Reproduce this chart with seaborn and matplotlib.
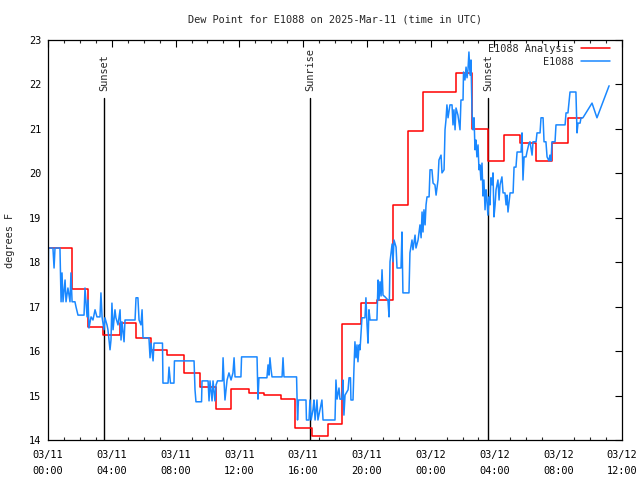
import matplotlib
matplotlib.use("Agg")
import matplotlib.pyplot as plt
from matplotlib.ticker import MultipleLocator
import numpy as np
import pandas as pd
import seaborn as sns

# ---------------- data ----------------
title = "Dew Point for E1088 on 2025-Mar-11 (time in UTC)"
ylabel = "degrees F"

# hours since 2025-03-11 00:00 UTC
red_hours = [0.0, 1.51, 2.53, 3.47, 4.52, 5.50, 6.46, 7.48, 8.55, 9.53, 10.54, 11.46,
             12.60, 13.55, 14.60, 15.50, 16.54, 17.58, 18.46, 19.63, 20.65, 21.62, 22.60,
             23.54, 24.59, 25.57, 26.57, 27.62, 28.60, 29.60, 30.60, 31.59, 32.63, 33.47]
red_vals = [18.31, 17.40, 16.55, 16.36, 16.64, 16.29, 16.03, 15.92, 15.51, 15.19, 14.69, 15.14,
            15.06, 15.01, 14.92, 14.26, 14.08, 14.37, 16.61, 17.09, 17.15, 19.29, 20.96,
            21.82, 21.84, 22.25, 20.99, 20.27, 20.86, 20.69, 20.28, 20.69, 21.24, 21.24]

blue_hours = [
    0.00, 0.03, 0.31, 0.38, 0.44, 0.75, 0.82, 0.88, 0.94, 1.07, 1.13, 1.25, 1.38, 1.44, 1.51,
    1.69, 1.76, 1.88, 2.26, 2.32, 2.38, 2.45, 2.51, 2.57, 2.70, 2.82, 2.95, 3.07, 3.26, 3.32,
    3.39, 3.51, 3.57, 3.70, 3.76, 3.89, 3.95, 4.01, 4.08, 4.20, 4.26, 4.39, 4.52, 4.58, 4.64,
    4.77, 4.83, 5.46, 5.52, 5.64, 5.71, 5.83, 5.90, 5.96, 6.33, 6.40, 6.46, 6.59, 6.65, 7.18,
    7.21, 7.53, 7.59, 7.68, 7.90, 7.93, 9.16, 9.22, 9.28, 9.63, 9.66, 10.04, 10.10, 10.16, 10.29,
    10.35, 10.47, 10.54, 10.63, 10.94, 10.98, 11.04, 11.10, 11.23, 11.35, 11.48, 11.60, 11.67, 11.73, 12.10,
    12.14, 13.11, 13.17, 13.23, 13.73, 13.80, 13.86, 13.92, 13.99, 14.05, 14.68, 14.74, 14.80, 15.59, 15.65,
    15.71, 16.18, 16.21, 16.37, 16.43, 16.50, 16.62, 16.68, 16.75, 16.87, 16.93, 17.18, 17.25, 18.00, 18.06,
    18.13, 18.25, 18.31, 18.44, 18.50, 18.56, 18.63, 18.82, 18.88, 18.97, 19.00, 19.13, 19.19, 19.25, 19.32,
    19.38, 19.44, 19.51, 19.57, 19.63, 19.69, 19.88, 19.94, 20.01, 20.07, 20.13, 20.20, 20.63, 20.70, 20.76,
    20.82, 20.89, 20.95, 21.01, 21.14, 21.32, 21.39, 21.45, 21.58, 21.64, 21.70, 21.83, 21.89, 22.14, 22.20,
    22.26, 22.64, 22.70, 22.83, 22.89, 23.02, 23.08, 23.21, 23.33, 23.40, 23.46, 23.52, 23.58, 23.65, 23.71,
    23.77, 23.90, 23.96, 24.08, 24.15, 24.27, 24.34, 24.46, 24.52, 24.65, 24.71, 24.84, 24.90, 24.96, 25.02,
    25.09, 25.21, 25.34, 25.40, 25.46, 25.53, 25.59, 25.71, 25.84, 25.90, 26.03, 26.06, 26.15, 26.22, 26.28,
    26.34, 26.40, 26.47, 26.53, 26.59, 26.65, 26.72, 26.78, 26.84, 26.90, 26.97, 27.03, 27.09, 27.15, 27.22,
    27.28, 27.34, 27.41, 27.47, 27.53, 27.59, 27.66, 27.72, 27.78, 27.85, 27.91, 27.97, 28.04, 28.10, 28.22,
    28.29, 28.35, 28.47, 28.54, 28.66, 28.73, 28.79, 28.85, 28.98, 29.17, 29.23, 29.35, 29.42, 29.67, 29.73,
    29.79, 29.86, 29.98, 30.04, 30.17, 30.23, 30.36, 30.42, 30.61, 30.67, 30.86, 30.92, 31.05, 31.11, 31.23,
    31.30, 31.42, 31.48, 31.55, 31.61, 31.80, 31.86, 32.43, 32.49, 32.61, 32.68, 32.74, 33.11, 33.18, 33.24,
    33.37, 33.43, 33.55, 34.12, 34.43, 35.19]
blue_vals = [
    16.81, 18.32, 18.32, 17.87, 18.32, 18.32, 17.11, 17.76, 17.11, 17.60, 17.11, 17.42, 17.11, 17.76, 17.11,
    17.11, 16.99, 16.81, 16.81, 17.42, 17.11, 16.77, 17.15, 16.52, 16.77, 16.70, 16.93, 16.77, 16.77, 17.31,
    16.77, 16.48, 16.75, 16.59, 16.48, 16.03, 16.25, 17.08, 16.48, 16.93, 16.75, 16.59, 16.93, 16.25, 16.66,
    16.21, 16.70, 16.70, 17.20, 17.20, 16.70, 16.59, 16.93, 16.30, 16.30, 15.85, 16.18, 15.78, 16.18, 16.18,
    15.28, 15.28, 15.64, 15.28, 15.28, 15.78, 15.78, 15.13, 14.86, 14.86, 15.33, 15.33, 14.88, 15.33, 14.88,
    15.33, 14.88, 15.24, 15.33, 15.33, 15.85, 15.33, 14.90, 15.35, 15.51, 15.35, 15.51, 15.85, 15.42, 15.42,
    15.87, 15.87, 14.92, 15.40, 15.40, 15.69, 15.46, 15.85, 15.58, 15.42, 15.42, 15.85, 15.42, 15.42, 14.45,
    14.90, 14.90, 14.45, 14.45, 14.90, 14.45, 14.68, 14.90, 14.45, 14.90, 14.45, 14.90, 14.45, 14.45, 15.35,
    14.92, 15.17, 14.92, 14.92, 15.35, 14.56, 15.01, 15.13, 15.40, 15.40, 14.90, 14.90, 15.62, 16.21, 15.85,
    16.14, 15.76, 16.14, 16.03, 16.41, 16.75, 16.75, 17.20, 16.59, 16.18, 16.93, 16.70, 16.70, 17.60, 17.15,
    17.56, 17.24, 17.83, 17.26, 17.22, 17.15, 16.77, 18.01, 18.41, 18.01, 18.50, 18.34, 17.87, 17.87, 18.68,
    17.31, 17.31, 18.21, 18.50, 18.28, 18.61, 18.32, 18.50, 18.84, 18.55, 19.13, 18.68, 19.18, 18.84, 19.29,
    19.47, 19.47, 20.08, 20.08, 19.78, 19.74, 19.51, 19.85, 20.30, 20.41, 20.01, 20.08, 20.98, 21.20, 21.54,
    21.25, 21.54, 21.54, 21.09, 21.43, 20.98, 21.47, 21.31, 20.98, 21.65, 21.65, 22.28, 22.10, 22.39, 22.15,
    22.33, 22.73, 22.21, 22.55, 21.43, 20.98, 21.25, 20.53, 20.75, 20.37, 20.64, 20.08, 20.19, 19.85, 20.23,
    19.49, 19.85, 19.18, 19.63, 19.40, 19.06, 19.47, 19.29, 19.90, 19.74, 20.01, 19.02, 19.29, 19.63, 19.85,
    19.40, 19.74, 19.92, 19.56, 19.56, 19.29, 19.51, 19.13, 19.56, 19.56, 20.14, 20.14, 20.48, 20.48, 20.91,
    19.85, 20.37, 20.37, 20.48, 20.68, 20.71, 20.41, 20.71, 20.71, 20.91, 20.91, 21.25, 21.25, 20.71, 20.71,
    20.37, 20.28, 20.41, 20.28, 20.71, 20.71, 21.09, 21.09, 21.36, 21.36, 21.61, 21.83, 21.83, 20.91, 21.13,
    21.13, 21.25, 21.25, 21.58, 21.25, 21.97]

event_names = ["Sunset", "Sunrise", "Sunset"]
event_hours = [3.51, 16.43, 27.60]

tick_hours = [0, 4, 8, 12, 16, 20, 24, 28, 32, 36]
tick_dates = ["03/11", "03/11", "03/11", "03/11", "03/11", "03/11", "03/12", "03/12", "03/12", "03/12"]
tick_times = ["00:00", "04:00", "08:00", "12:00", "16:00", "20:00", "00:00", "04:00", "08:00", "12:00"]
ytick_vals = [14, 15, 16, 17, 18, 19, 20, 21, 22, 23]

series_names = ["E1088 Analysis", "E1088"]
series_colors = ["#ff0000", "#1a88ff"]

# ---------------- plot ----------------
sns.set_style("white")
plt.rcParams["font.family"] = ["DejaVu Sans Mono", "DejaVu Sans"]
fs = 7.4

fig = plt.figure(figsize=(6.4, 4.8), dpi=100)
ax = fig.add_axes([48 / 640, 40 / 480, 574 / 640, 400 / 480])

red_df = pd.DataFrame({"hour": red_hours, "dewpoint": red_vals})
blue_df = pd.DataFrame({"hour": blue_hours, "dewpoint": blue_vals})

sns.lineplot(data=red_df, x="hour", y="dewpoint", ax=ax, color=series_colors[0],
             lw=1.1, drawstyle="steps-post", estimator=None, sort=False,
             label=series_names[0])
sns.lineplot(data=blue_df, x="hour", y="dewpoint", ax=ax, color=series_colors[1],
             lw=1.1, estimator=None, sort=False, label=series_names[1])

for name, h in zip(event_names, event_hours):
    ax.axvline(h, ymin=0, ymax=0.855, color="black", lw=1.0, zorder=1)
    ax.text(h, 0.872, name, rotation=90, ha="center", va="bottom", fontsize=fs,
            transform=ax.get_xaxis_transform())

ax.set_xlim(0, 36)
ax.set_ylim(14, 23)
ax.set_xticks(tick_hours)
ax.set_xticklabels([f"{d}\n{t}" for d, t in zip(tick_dates, tick_times)], fontsize=fs)
for lab in ax.get_xticklabels():
    lab.set_linespacing(1.65)
ax.xaxis.set_minor_locator(MultipleLocator(1))
ax.set_yticks(ytick_vals)
ax.set_yticklabels([str(v) for v in ytick_vals], fontsize=fs)
ax.tick_params(which="major", direction="in", length=5, width=0.8, top=True, right=True,
               colors="black")
ax.tick_params(axis="x", which="major", pad=7.5)
ax.tick_params(axis="y", which="major", pad=5)
ax.tick_params(which="minor", direction="in", length=2.5, width=0.8, top=True, right=True,
               bottom=True)
for s in ax.spines.values():
    s.set_color("black")
    s.set_linewidth(0.9)

ax.set_xlabel("")
ax.set_ylabel("")
fig.text(10 / 640, 1 - 240 / 480, ylabel, rotation=90, ha="center", va="center", fontsize=fs)
fig.text(335 / 640, 1 - 19 / 480, title, ha="center", va="center", fontsize=fs)

handles, labels = ax.get_legend_handles_labels()
ax.legend(handles, labels, loc="upper right", bbox_to_anchor=(610 / 640, 1 - 43.5 / 480),
          bbox_transform=fig.transFigure, frameon=False, markerfirst=False,
          handlelength=2.8, handletextpad=0.7, labelspacing=0.3, borderpad=0,
          borderaxespad=0, fontsize=fs)

fig.savefig("out.png", dpi=100)
